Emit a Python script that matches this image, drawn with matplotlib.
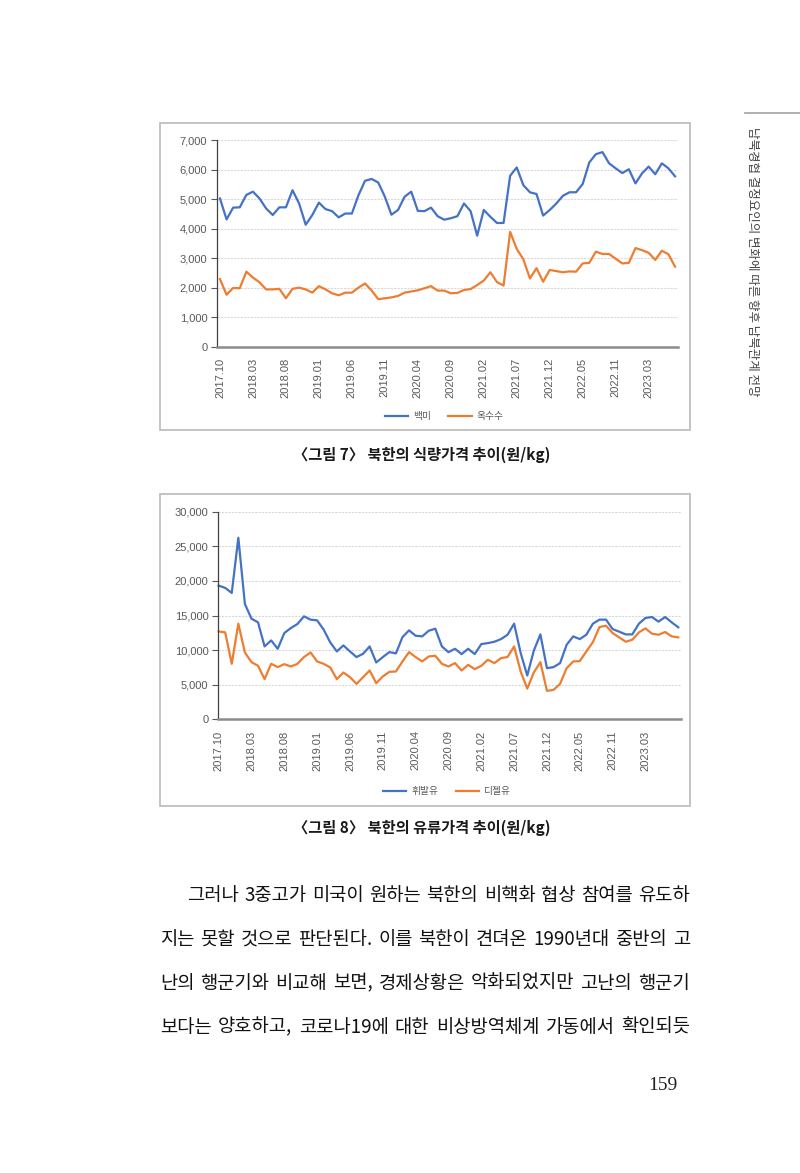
import matplotlib
matplotlib.use('Agg')
import matplotlib.pyplot as plt
from matplotlib.patches import Rectangle
from matplotlib.lines import Line2D

# 페이지 크기 (px)
W, H = 800, 1173
KR = ['Noto Sans CJK KR', 'DejaVu Sans']
NUM = ['Liberation Sans', 'DejaVu Sans']
SERIF = ['Liberation Serif', 'DejaVu Serif']

# ---------------------------------------------------------------------------
tick_labels = ['2017.10', '2018.03', '2018.08', '2019.01', '2019.06', '2019.11',
               '2020.04', '2020.09', '2021.02', '2021.07', '2021.12', '2022.05',
               '2022.11', '2023.03']

# 그림 7 : 식량가격 (원/kg)
rice = [5020, 4310, 4710, 4720, 5140, 5250, 5020, 4680, 4460, 4720,
        4720, 5300, 4850, 4130, 4460, 4880, 4660, 4590, 4380, 4510,
        4510, 5130, 5620, 5680, 5560, 5080, 4470, 4630, 5080, 5250,
        4600, 4590, 4710, 4420, 4300, 4350, 4420, 4850, 4590, 3760,
        4630, 4400, 4190, 4190, 5790, 6070, 5470, 5230, 5170, 4440,
        4630, 4850, 5110, 5230, 5230, 5510, 6240, 6520, 6590, 6210,
        6040, 5880, 6010, 5530, 5870, 6100, 5840, 6210, 6040, 5770]
corn = [2290, 1760, 1990, 1980, 2540, 2340, 2180, 1940, 1940, 1960,
        1640, 1960, 2000, 1940, 1830, 2050, 1940, 1810, 1740, 1830,
        1830, 2000, 2140, 1900, 1610, 1640, 1670, 1720, 1830, 1870,
        1910, 1980, 2050, 1900, 1900, 1810, 1820, 1920, 1950, 2090,
        2240, 2520, 2190, 2070, 3890, 3310, 2960, 2310, 2660, 2200,
        2600, 2560, 2520, 2550, 2540, 2820, 2840, 3220, 3140, 3140,
        2980, 2820, 2840, 3340, 3270, 3180, 2940, 3250, 3130, 2710]

# 그림 8 : 유류가격 (원/kg)
gasoline = [19320, 18990, 18260, 26230, 16670, 14540, 14010, 10530, 11400, 10190,
            12460, 13190, 13770, 14880, 14400, 14300, 12950, 11110, 9810, 10680,
            9810, 8990, 9470, 10530, 8210, 8990, 9710, 9520, 11880, 12850,
            12080, 11980, 12800, 13090, 10530, 9700, 10190, 9420, 10190, 9420,
            10870, 11010, 11210, 11590, 12220, 13820, 9570, 6330, 9920, 12270,
            7390, 7540, 8120, 10770, 11980, 11590, 12220, 13820, 14400, 14400,
            13040, 12660, 12270, 12270, 13820, 14640, 14780, 14110, 14780, 14010,
            13290]
diesel = [12700, 12560, 8020, 13820, 9660, 8260, 7730, 5800, 8020, 7540,
          7970, 7630, 8020, 8990, 9660, 8360, 8020, 7490, 5800, 6760,
          6090, 5120, 6090, 7050, 5220, 6180, 6860, 6910, 8360, 9710,
          8990, 8360, 9080, 9180, 8020, 7630, 8120, 7050, 7870, 7250,
          7730, 8600, 8120, 8840, 9000, 10530, 6900, 4440, 6760, 8260,
          4110, 4250, 5120, 7390, 8360, 8410, 9810, 11160, 13330, 13530,
          12460, 11840, 11210, 11500, 12560, 13140, 12370, 12220, 12610, 11980,
          11840]

body = ['그러나 3중고가 미국이 원하는 북한의 비핵화 협상 참여를 유도하',
        '지는 못할 것으로 판단된다. 이를 북한이 견뎌온 1990년대 중반의 고',
        '난의 행군기와 비교해 보면, 경제상황은 악화되었지만 고난의 행군기',
        '보다는 양호하고, 코로나19에 대한 비상방역체계 가동에서 확인되듯']
#-------------------------------------------------------------------------------

fig = plt.figure(figsize=(W / 100, H / 100), dpi=100)
fig.patch.set_facecolor('white')


def fx(x):
    return x / W


def fy(y):
    return 1 - y / H


def box(x0, y0, x1, y1):
    fig.add_artist(Rectangle((fx(x0), fy(y1)), (x1 - x0) / W, (y1 - y0) / H,
                             transform=fig.transFigure, fill=False,
                             ec='#bfbfbf', lw=1.3))


def chart(left, right, top, bottom, xlim, series, names, ymax, ystep, leg_x, leg_y):
    ax = fig.add_axes([fx(left), fy(bottom), (right - left) / W, (bottom - top) / H])
    for vals, c, name in zip(series, ['#4472C4', '#ED7D31'], names):
        ax.plot(range(len(vals)), vals, color=c, lw=1.6, label=name,
                solid_joinstyle='round', clip_on=False)
    ax.set_xlim(*xlim)
    ax.set_ylim(0, ymax)
    ax.set_yticks(range(0, ymax + 1, ystep))
    ax.set_yticklabels([f'{v:,}' for v in range(0, ymax + 1, ystep)],
                       family=NUM, fontsize=8, color='#595959')
    ax.set_xticks(range(0, 5 * len(tick_labels), 5))
    ax.set_xticklabels(tick_labels, rotation=90, family=NUM, fontsize=8,
                       color='#595959')
    ax.tick_params(axis='x', length=0, pad=8)
    ax.tick_params(axis='y', length=4, width=0.8, color='#595959', pad=3)
    ax.yaxis.grid(True, color='#d9d9d9', lw=0.8, linestyle=(0, (2, 1)))
    ax.set_axisbelow(True)
    for s in ['top', 'right']:
        ax.spines[s].set_visible(False)
    ax.spines['left'].set_color('#404040')
    ax.spines['left'].set_linewidth(0.9)
    ax.spines['bottom'].set_color('#8c8c8c')
    ax.spines['bottom'].set_linewidth(1.8)
    ax.spines['bottom'].set_zorder(3)
    leg = ax.legend(loc='center', bbox_to_anchor=(fx(leg_x), fy(leg_y)),
                    bbox_transform=fig.transFigure, ncol=2, frameon=False,
                    prop=dict(family=KR, size=7), handlelength=2.4,
                    handletextpad=0.5, columnspacing=1.8)
    for t in leg.get_texts():
        t.set_color('#595959')
    return ax


# 그림 7
box(160, 123, 690, 430)
chart(217, 678, 140, 346.7, (-0.45, 69.45), [rice, corn], ['백미', '옥수수'],
      7000, 1000, 444, 416)
fig.text(fx(422), fy(455), '〈그림 7〉 북한의 식량가격 추이(원/kg)', family=KR,
         fontsize=11, fontweight='bold', ha='center', va='center', color='#1a1a1a')

# 그림 8
box(160, 494, 690, 806)
chart(218.3, 680.7, 511.7, 719.3, (-0.05, 70.37), [gasoline, diesel],
      ['휘발유', '디젤유'], 30000, 5000, 447, 791)
fig.text(fx(422), fy(828), '〈그림 8〉 북한의 유류가격 추이(원/kg)', family=KR,
         fontsize=11, fontweight='bold', ha='center', va='center', color='#1a1a1a')

# 본문 (양쪽 정렬)
renderer = fig.canvas.get_renderer()
line_y = [895, 939, 983, 1027]
for i, (line, y) in enumerate(zip(body, line_y)):
    x0 = 187 if i == 0 else 160
    x1 = 690
    words = line.split(' ')
    size = 14.5
    while True:
        objs = [fig.text(0, fy(y), w, family=KR, fontsize=size, color='#111111',
                         va='center', ha='left') for w in words]
        widths = [o.get_window_extent(renderer).width for o in objs]
        gap = (x1 - x0 - sum(widths)) / (len(words) - 1)
        if gap >= 5 or size < 10:
            break
        for o in objs:
            o.remove()
        size -= 0.25
    x = x0
    for o, w in zip(objs, widths):
        o.set_x(fx(x))
        x += w + gap

# 쪽 번호, 머리글
fig.text(fx(663), fy(1086), '159', family=SERIF, fontsize=14, ha='center',
         va='center', color='#222222')
fig.add_artist(Line2D([fx(745), fx(800)], [fy(113), fy(113)],
                      transform=fig.transFigure, color='#aaaaaa', lw=1.3))
fig.text(fx(752), fy(262), '남북경협 결정요인의 변화에 따른 향후 남북관계 전망',
         family=KR, fontsize=9, rotation=-90, ha='center', va='center',
         color='#444444')

fig.savefig('out.png', dpi=100, facecolor='white')
